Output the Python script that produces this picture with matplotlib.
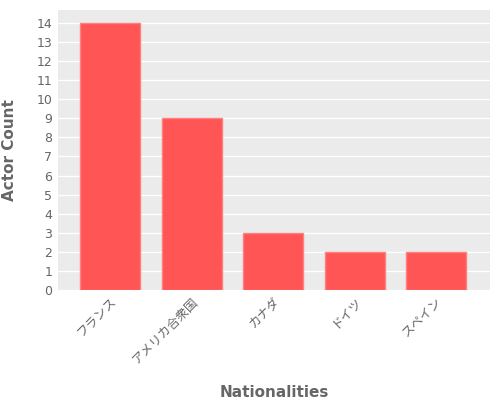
import matplotlib
matplotlib.use("Agg")
import matplotlib.pyplot as plt

plt.rcParams['font.family'] = ['DejaVu Sans', 'Noto Sans CJK JP']

nationalities = ["フランス", "アメリカ合衆国", "カナダ", "ドイツ", "スペイン"]
actor_counts = [14, 9, 3, 2, 2]

fig = plt.figure(figsize=(5, 4), dpi=100)
ax = fig.add_axes([0.116, 0.275, 0.864, 0.70])
ax.set_facecolor("#ebebeb")
ax.bar(range(len(nationalities)), actor_counts, width=0.74,
       color="#ff5555", edgecolor="#ff8080", linewidth=1, zorder=3)

ax.set_xlim(-0.64, 4.66)
ax.set_ylim(0, 14.68)
ax.set_yticks(range(0, 15))
ax.set_xticks(range(len(nationalities)))
ax.set_xticklabels(nationalities, rotation=45, ha="right", rotation_mode="anchor",
                   family=['Noto Sans CJK JP', 'DejaVu Sans'])
ax.grid(axis="y", color="white", linewidth=1, zorder=0)
ax.set_axisbelow(True)
for s in ax.spines.values():
    s.set_visible(False)
ax.tick_params(colors="#666666", labelsize=9, length=0)
ax.tick_params(axis="y", pad=4)
ax.set_ylabel("Actor Count", color="#666666", fontsize=11, fontweight="bold")
ax.set_xlabel("Nationalities", color="#666666", fontsize=11, fontweight="bold")
ax.xaxis.set_label_coords(0.5, -0.34)
ax.yaxis.set_label_coords(-0.095, 0.5)

fig.savefig("out.png")
